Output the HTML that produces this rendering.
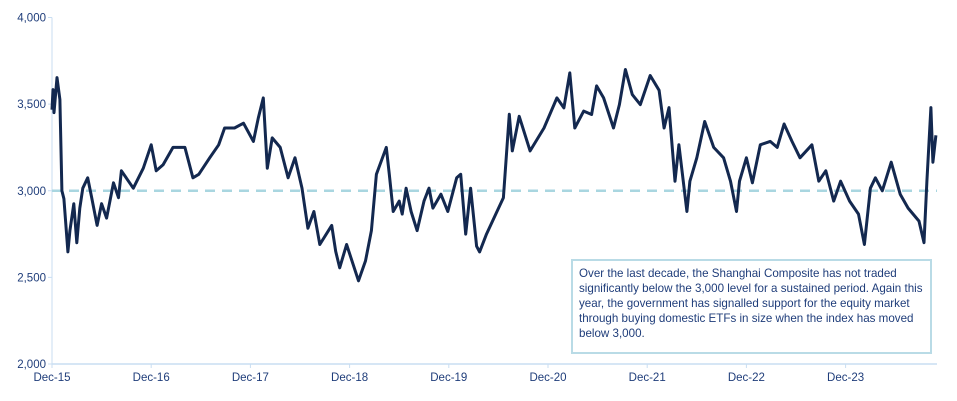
<!DOCTYPE html>
<html><head><meta charset="utf-8"><style>
body{margin:0;background:#fff;font-family:"Liberation Sans",sans-serif}
#c{position:absolute;left:0;top:0}
#note{position:absolute;left:571px;top:259px;width:346px;height:82px;border:2px solid #b9dbe6;padding:5px 5px 4px 6px;font-size:11.6px;line-height:15px;color:#1f3d7a;box-sizing:content-box}
</style></head><body>
<svg id="c" width="957" height="401"></svg>
<div id="note">Over the last decade, the Shanghai Composite has not traded significantly below the 3,000 level for a sustained period. Again this year, the government has signalled support for the equity market through buying domestic ETFs in size when the index has moved below 3,000.</div>
<script>
const tYears=[0,0.01,0.02,0.05,0.08,0.10,0.12,0.16,0.18,0.22,0.25,0.28,0.31,0.36,0.40,0.455,0.50,0.55,0.62,0.67,0.70,0.82,0.92,1.0,1.05,1.12,1.22,1.34,1.42,1.48,1.59,1.68,1.74,1.84,1.93,2.03,2.08,2.13,2.17,2.22,2.30,2.38,2.45,2.52,2.58,2.64,2.70,2.82,2.86,2.90,2.97,3.09,3.16,3.22,3.27,3.37,3.40,3.44,3.50,3.53,3.57,3.62,3.68,3.75,3.80,3.84,3.92,3.99,4.08,4.12,4.17,4.22,4.28,4.31,4.38,4.48,4.55,4.61,4.64,4.71,4.82,4.96,5.09,5.16,5.22,5.27,5.36,5.44,5.49,5.56,5.66,5.72,5.78,5.85,5.93,6.03,6.12,6.17,6.22,6.28,6.32,6.40,6.43,6.50,6.58,6.67,6.77,6.84,6.90,6.93,7.00,7.06,7.14,7.24,7.31,7.38,7.46,7.54,7.66,7.73,7.80,7.88,7.95,8.04,8.13,8.19,8.25,8.30,8.37,8.46,8.55,8.63,8.74,8.79,8.82,8.86,8.88,8.91];
const values=[3468,3584,3451,3653,3526,3000,2954,2647,2769,2925,2700,2900,3015,3075,2960,2800,2925,2842,3046,2960,3115,3015,3130,3265,3115,3150,3250,3250,3075,3095,3190,3265,3362,3362,3390,3285,3420,3536,3130,3305,3250,3075,3190,3015,2783,2880,2690,2800,2650,2555,2690,2480,2595,2770,3095,3250,3095,2880,2940,2865,3015,2880,2770,2940,3015,2900,2980,2880,3075,3095,2750,3015,2680,2647,2750,2873,2960,3442,3230,3430,3230,3362,3536,3478,3680,3362,3460,3440,3605,3536,3362,3497,3700,3555,3497,3665,3580,3362,3480,3055,3265,2880,3055,3190,3400,3250,3190,3055,2880,3055,3190,3046,3265,3285,3250,3385,3285,3190,3265,3055,3115,2940,3055,2940,2865,2690,3015,3075,3000,3165,2980,2900,2825,2700,3055,3480,3165,3320];
const yTicks=[2000,2500,3000,3500,4000];
const xLabels=["Dec-15","Dec-16","Dec-17","Dec-18","Dec-19","Dec-20","Dec-21","Dec-22","Dec-23"];
const refLevel=3000;
const NS="http://www.w3.org/2000/svg",svg=document.getElementById('c');
const X0=52,X1=937,YB=364,YT=17.5;
const x=t=>X0+t*99.2;
const y=v=>YB-(v-2000)/2000*(YB-YT);
function mk(tag,a){const e=document.createElementNS(NS,tag);for(const k in a)e.setAttribute(k,a[k]);svg.appendChild(e);return e;}
let e=mk('line',{x1:X0,y1:YT,x2:X0,y2:YB,stroke:'#c9def2','stroke-width':1});

e=mk('line',{x1:X0,y1:YB,x2:X1,y2:YB,stroke:'#c9def2','stroke-width':1.5});

yTicks.forEach(v=>{
 const t=mk('line',{x1:X0-4,y1:y(v),x2:X0,y2:y(v),stroke:'#c9def2'});
 
 const l=mk('text',{x:X0-6,y:y(v)+4,'text-anchor':'end','font-size':11.5,fill:'#1f3d7a'});
 l.textContent=v.toLocaleString('en-US');
 
});
xLabels.forEach((s,i)=>{
 const t=mk('line',{x1:x(i),y1:YB,x2:x(i),y2:YB+4,stroke:'#c9def2'});
 
 const l=mk('text',{x:x(i),y:YB+17,'text-anchor':'middle','font-size':11.5,fill:'#1f3d7a'});
 l.textContent=s;
 
});
e=mk('line',{x1:X0,y1:y(refLevel),x2:X1,y2:y(refLevel),stroke:'#a9d6e0','stroke-width':2.5,'stroke-dasharray':'10 7'});

const d=tYears.map((t,i)=>(i?'L':'M')+x(t).toFixed(1)+','+y(values[i]).toFixed(1)).join('');
e=mk('path',{d:d,fill:'none',stroke:'#13284f','stroke-width':3,'stroke-linejoin':'round'});

</script>
</body></html>
